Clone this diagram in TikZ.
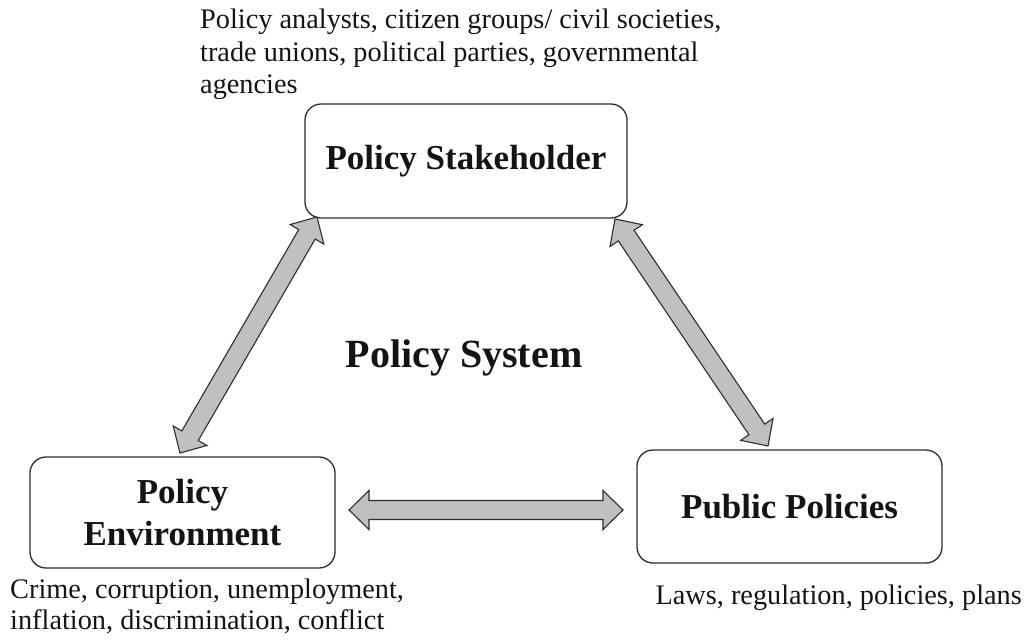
\documentclass[tikz,border=0pt]{standalone}
\usepackage{fontspec}
\setmainfont{Liberation Serif}
\usetikzlibrary{calc}
\definecolor{arrfill}{RGB}{192,192,192}
\definecolor{edge}{RGB}{45,45,45}
\definecolor{ink}{RGB}{20,20,20}
\newcommand\blockarr[2]{%
  \coordinate (ha) at ($(#1)!20pt!(#2)$);
  \coordinate (hb) at ($(#2)!20pt!(#1)$);
  \filldraw[barrow] (#1) -- ($(ha)!19.5pt!90:(#2)$) -- ($(ha)!9.5pt!90:(#2)$)
    -- ($(hb)!9.5pt!-90:(#1)$) -- ($(hb)!19.5pt!-90:(#1)$) -- (#2)
    -- ($(hb)!19.5pt!90:(#1)$) -- ($(hb)!9.5pt!90:(#1)$)
    -- ($(ha)!9.5pt!-90:(#2)$) -- ($(ha)!19.5pt!-90:(#2)$) -- cycle;}
\begin{document}
\begin{tikzpicture}[x=1pt,y=-1pt,
  box/.style={draw=edge, line width=1.3pt, rounded corners=16pt, fill=white,
    inner sep=0pt, text=ink, font=\fontsize{35}{42}\selectfont\bfseries, align=center},
  desc/.style={inner sep=0pt, text=ink, font=\fontsize{28.3}{32.5}\selectfont, align=left},
  barrow/.style={fill=arrfill, draw=edge, line width=1.1pt, line join=miter}]
\useasboundingbox (0,0) rectangle (1027,641);
% boxes
\node[box, minimum width=322pt, minimum height=114pt] (stk) at (466,161) {Policy Stakeholder};
\node[box, minimum width=305pt, minimum height=111pt] (env) at (182.5,512.5) {Policy\\Environment};
\node[box, minimum width=305pt, minimum height=113pt] (pub) at (789.5,506.5) {Public Policies};
% centre label
\node[inner sep=0pt, text=ink, font=\fontsize{40}{48}\selectfont\bfseries] (sys) at (464,358) {Policy System};
% descriptions
\node[desc, anchor=north west] (stkd) at (200,9) {Policy analysts, citizen groups/ civil societies,\\trade unions, political parties, governmental\\agencies};
\node[desc, anchor=north west, font=\fontsize{28.3}{31}\selectfont] (envd) at (10,579) {Crime, corruption, unemployment,\\inflation, discrimination, conflict};
\node[desc, anchor=base east] (pubd) at (1022,604) {Laws, regulation, policies, plans};
% arrow end points
\coordinate (l1) at (317,217);
\coordinate (l2) at (180,453);
\coordinate (r1) at (615,219);
\coordinate (r2) at (768,446);
\coordinate (h1) at (349,510);
\coordinate (h2) at (623,510);
\blockarr{l1}{l2}
\blockarr{r1}{r2}
\blockarr{h1}{h2}
\end{tikzpicture}
\end{document}
